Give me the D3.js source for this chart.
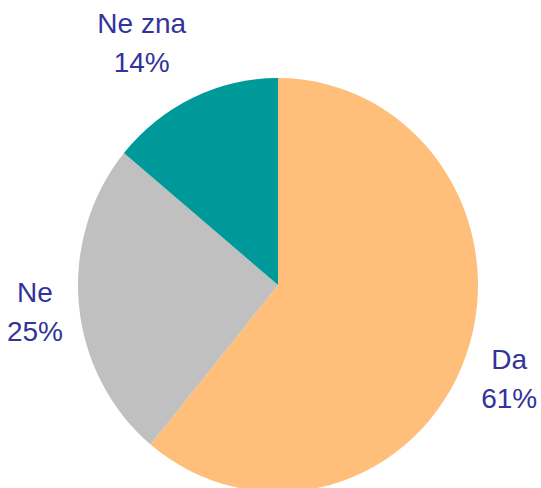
<!DOCTYPE html>
<html>
<head>
<meta charset="utf-8">
<script src="https://cdn.jsdelivr.net/npm/d3@7"></script>
<style>
  body { margin: 0; background: #fff; }
  text { font-family: "Liberation Sans", Arial, sans-serif; }
</style>
</head>
<body>
<script>
const w = 541
const h = 488

// data
const categories = ["Da", "Ne", "Ne zna"]
const values = [61, 25, 14]
const colors = ["#FFBE7A", "#C0C0C0", "#009999"]

const cx = 278, cy = 285
const r = 200
const squash = 1.035 // pie is a bit taller than wide
const fontSize = 28
const lineGap = 39

const svg = d3.select("body")
    .append("svg")
    .attr("width", w)
    .attr("height", h)

const data = categories.map((c, i) => ({ name: c, value: values[i], color: colors[i] }))

const pie = d3.pie().sort(null).value(d => d.value)
const arc = d3.arc().innerRadius(0).outerRadius(r)
const arcs = pie(data)

const g = svg.append("g")
    .attr("transform", `translate(${cx},${cy}) scale(1,${squash})`)

g.selectAll("path")
    .data(arcs)
    .enter()
    .append("path")
    .attr("d", arc)
    .attr("fill", d => d.data.color)

// labels: the box corner facing the pie sits on the mid-angle ray, a bit outside
const labels = svg.selectAll("g.lbl")
    .data(arcs)
    .enter()
    .append("g")
    .attr("class", "lbl")

labels.each(function (d) {
    const lg = d3.select(this)
    const t1 = lg.append("text").text(d.data.name)
    const t2 = lg.append("text").text(d.data.value + "%")
    lg.selectAll("text")
        .attr("text-anchor", "middle")
        .attr("font-size", fontSize)
        .attr("fill", "#333399")

    const hw = Math.max(t1.node().getComputedTextLength(), t2.node().getComputedTextLength()) / 2
    const hh = 30
    const a = (d.startAngle + d.endAngle) / 2
    const ux = Math.sin(a), uy = -Math.cos(a)
    const dist = r + 16
    const px = cx + dist * ux, py = cy + dist * uy * squash
    const fx = Math.sign(ux) * Math.min(1, Math.abs(ux) / 0.4)
    const fy = Math.sign(uy) * Math.min(1.35, Math.abs(uy) / 0.6)
    const lx = px + fx * hw
    const ly = py + fy * hh

    t1.attr("x", lx).attr("y", ly - 9)
    t2.attr("x", lx).attr("y", ly - 9 + lineGap)
})
</script>
</body>
</html>
